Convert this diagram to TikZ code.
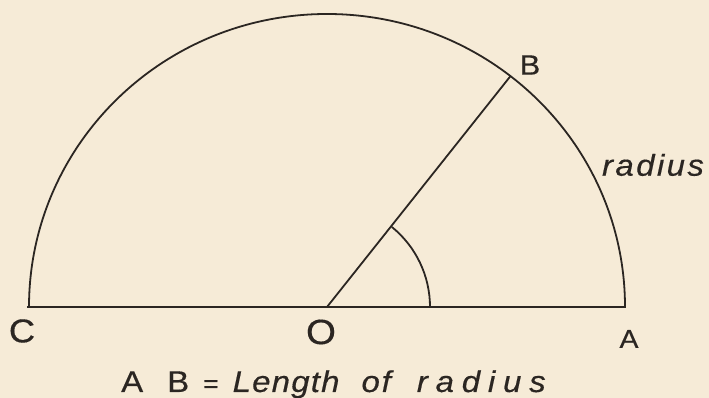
\documentclass[tikz,border=0pt]{standalone}
\usepackage{fontspec}
\setmainfont{Liberation Sans}[FakeStretch=1.1, FakeBold=0.4]
\definecolor{paper}{HTML}{F6EBD7}
\definecolor{ink}{HTML}{2B2622}
\tikzset{
  ln/.style={draw=ink, line width=1.8pt, line join=miter},
  lbl/.style={text=ink, font=\fontsize{30}{32}\selectfont, inner sep=0pt},
  ital/.style={text=ink, font=\fontsize{30}{32}\selectfont\itshape, inner sep=0pt},
}
\begin{document}
\begin{tikzpicture}[x=1pt,y=1pt]
\fill[paper] (0,0) rectangle (709,398);
\useasboundingbox (0,0) rectangle (709,398);
\coordinate (O) at (327,91);
\coordinate (A) at (625,91);
\coordinate (C) at (27,91);
\path (O) ++(52:298pt and 293pt) coordinate (B);
\path (O) ++(103pt,0) coordinate (S);
\draw[ln] (C) -- (A) arc[start angle=0, end angle=180, x radius=298pt, y radius=293pt];
\draw[ln] (O) -- (B);
\draw[ln] (S) arc[start angle=0, end angle=51, radius=103pt];
\node[lbl, font=\fontsize{28}{30}\selectfont] (lB) at (530,333) {B};
\node[lbl, font=\fontsize{33}{36}\selectfont] (lC) at (22,67) {C};
\node[lbl, font=\fontsize{35}{38}\selectfont] (lO) at (321,66) {O};
\node[lbl, font=\fontsize{26}{28}\selectfont] (lA) at (629,59) {A};
\node[ital] (lr) at (653,233) {\addfontfeature{LetterSpace=8}radius};
\node[lbl, anchor=base west] (cap) at (121,6) {A\hspace{24pt}B\hspace{14pt}{\fontsize{24}{26}\selectfont=}\hspace{14pt}{\itshape\addfontfeature{LetterSpace=4}Length}\hspace{22pt}{\itshape\addfontfeature{LetterSpace=6}of}\hspace{26pt}{\itshape\addfontfeature{LetterSpace=26}radius}};
\end{tikzpicture}
\end{document}
